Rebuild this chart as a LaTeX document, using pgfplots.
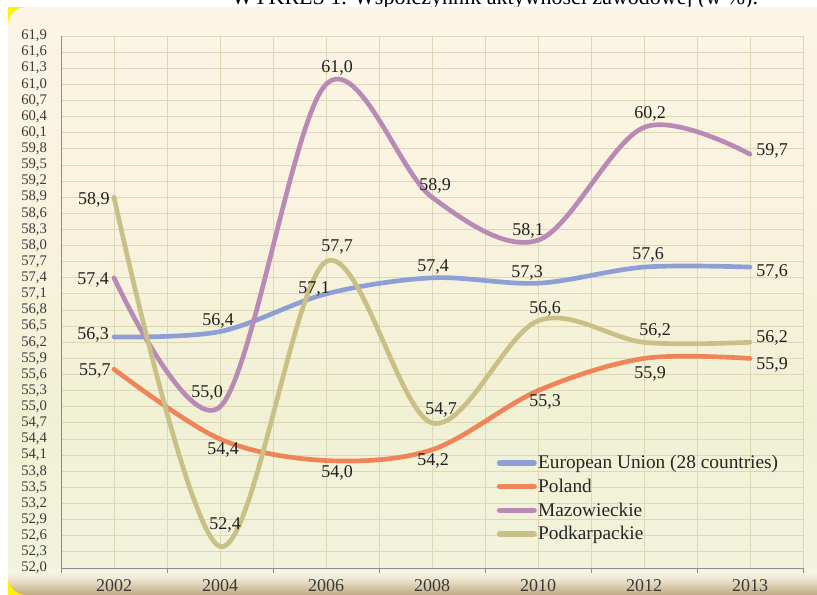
\documentclass[border=0pt]{standalone}
\usepackage{fontspec}
\setmainfont{Liberation Serif}
\usepackage{pgfplots}
\pgfplotsset{compat=1.18}
\usepackage{pgfplotstable}

\definecolor{cEU}{HTML}{8E9FD6}
\definecolor{cPL}{HTML}{EE8458}
\definecolor{cMA}{HTML}{B98AB6}
\definecolor{cPK}{HTML}{C9C087}
\definecolor{gridc}{HTML}{DCD7B7}
\definecolor{axc}{HTML}{8C8C8C}
\definecolor{labc}{HTML}{3A3A3A}
\definecolor{b0}{HTML}{BFA986}
\definecolor{b1}{HTML}{D6C6A6}
\definecolor{b2}{HTML}{F0E9D6}
\definecolor{b3}{HTML}{F6F4E4}
\definecolor{b4}{HTML}{F2F3DC}
\definecolor{b5}{HTML}{F0F1D4}
\definecolor{b6}{HTML}{F8F2DD}
\definecolor{b7}{HTML}{FCF5E6}

\pgfdeclareverticalshading{bgsh}{100bp}{color(0bp)=(b0); color(25bp)=(b0); color(25.68bp)=(b1); color(26.45bp)=(b2); color(26.96bp)=(b3); color(27.47bp)=(b4); color(39.9bp)=(b5); color(54.3bp)=(b6); color(75bp)=(b7); color(100bp)=(b7)}

% x = category index, y = value, dx/dy = label offset in px (dy positive = up)
\pgfplotstableread{
x y dx dy
0 56.3 -21 2
1 56.4 -2 11
2 57.1 -12 5
3 57.4 1 11
4 57.3 -11 10
5 57.6 4 12
6 57.6 22 -5
}\tEU
\pgfplotstableread{
x y dx dy
0 55.7 -19 -2
1 54.4 3 -11
2 54.0 11 -12
3 54.2 1 -11
4 55.3 7 -11
5 55.9 6 -15
6 55.9 22 -6
}\tPL
\pgfplotstableread{
x y dx dy
0 57.4 -21 -2
1 55.0 -13 14
2 61.0 11 16
3 58.9 3 11
4 58.1 -10 9
5 60.2 6 13
6 59.7 22 3
}\tMA
\pgfplotstableread{
x y dx dy
0 58.9 -20 -3
1 52.4 5 22
2 57.7 11 15
3 54.7 9 13
4 56.6 7 12
5 56.2 11 11
6 56.2 22 4
}\tPK

\pgfplotsset{
  lbl/.style={
    smooth, tension=0.55, line width=3.5pt, line cap=round, line join=round,
    visualization depends on={\thisrow{dx} \as \ldx},
    visualization depends on={\thisrow{dy} \as \ldy},
    nodes near coords,
    nodes near coords style={anchor=center, inner sep=0pt, text=black!88,
      font=\fontsize{13.5}{14}\selectfont,
      xshift=\ldx*0.75pt, yshift=\ldy*0.75pt},
  },
}

\begin{document}
\begin{tikzpicture}[x=0.75pt,y=-0.75pt]
\path[use as bounding box] (0,0) rectangle (817,595);
\clip (0,0) rectangle (817,595);
\node[anchor=base, font=\fontsize{16.5}{18}\selectfont, text=black] at (495,5) {WYKRES 1. Współczynnik aktywności zawodowej (w \%).};
\fill[yellow] (8,7) rectangle (817,595);
\shade[shading=bgsh, rounded corners=14] (8,595) -- (8,7) -- (840,7) -- (840,595) -- cycle;
\begin{axis}[
  at={(45.75pt,-426pt)}, anchor=south west,
  width=556.5pt, height=399pt, scale only axis,
  xmin=-0.5, xmax=6.5, ymin=52, ymax=61.9,
  xtick={0,...,6},
  xticklabels={2002,2004,2006,2008,2010,2012,2013},
  minor xtick={-0.5,0.5,1.5,2.5,3.5,4.5,5.5,6.5},
  ytick={52.0,52.3,52.6,52.9,53.2,53.5,53.8,54.1,54.4,54.7,55.0,55.3,55.6,55.9,56.2,56.5,56.8,57.1,57.4,57.7,58.0,58.3,58.6,58.9,59.2,59.5,59.8,60.1,60.4,60.7,61.0,61.3,61.6,61.9},
  xmajorgrids, xminorgrids, ymajorgrids,
  major grid style={gridc, line width=0.7pt},
  minor grid style={gridc, line width=0.7pt},
  axis x line*=bottom, axis y line*=left,
  axis line style={axc, line width=0.7pt},
  tick align=outside, major tick length=0pt, minor tick length=4pt,
  tick style={axc, line width=0.7pt},
  /pgf/number format/assume math mode=true,
  /pgf/number format/use comma,
  /pgf/number format/fixed,
  /pgf/number format/fixed zerofill,
  /pgf/number format/precision=1,
  yticklabel style={font=\fontsize{11}{12}\selectfont, text=labc, xshift=-7pt},
  xticklabel style={font=\fontsize{13.5}{14}\selectfont, text=labc, yshift=-5pt},
  legend style={at={(0.587,0.215)}, anchor=north west, draw=none, fill=none,
    font=\fontsize{14.5}{15.5}\selectfont, row sep=4.2pt, inner sep=0pt,
    nodes={inner sep=1pt, text=black!85}},
  legend cell align=left,
  legend image code/.code={\draw[#1, line width=4pt] (0pt,0pt) -- (26pt,0pt);},
]
\addplot[cEU, lbl] table[x=x,y=y] {\tEU};
\addlegendentry{European Union (28 countries)}
\addplot[cPL, lbl] table[x=x,y=y] {\tPL};
\addlegendentry{Poland}
\addplot[cMA, lbl] table[x=x,y=y] {\tMA};
\addlegendentry{Mazowieckie}
\addplot[cPK, lbl] table[x=x,y=y] {\tPK};
\addlegendentry{Podkarpackie}
\end{axis}
\end{tikzpicture}
\end{document}
